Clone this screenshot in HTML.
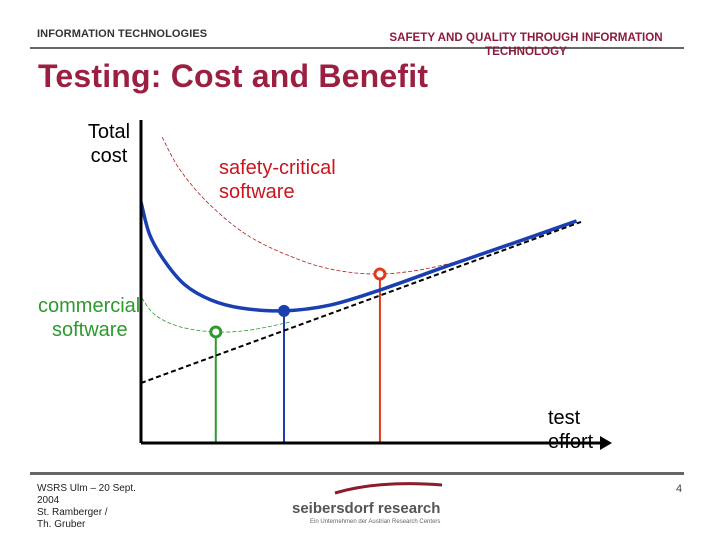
<!DOCTYPE html>
<html><head><meta charset="utf-8"><style>
body{margin:0;width:720px;height:540px;background:#fff;position:relative;overflow:hidden;font-family:"Liberation Sans",sans-serif}
.t{position:absolute;white-space:nowrap}
</style></head><body>
<div class="t" style="left:37px;top:28px;font-size:11px;font-weight:bold;color:#333;letter-spacing:0.1px">INFORMATION TECHNOLOGIES</div>
<div style="position:absolute;left:30px;top:47px;width:654px;height:2px;background:#666"></div>
<div class="t" style="left:370px;top:31px;width:312px;text-align:center;font-size:11.6px;font-weight:bold;color:#8c1c3c;white-space:normal;line-height:14px">SAFETY AND QUALITY THROUGH INFORMATION TECHNOLOGY</div>
<div class="t" style="left:38px;top:58px;font-size:32px;font-weight:bold;color:#9a1f40;letter-spacing:0.2px">Testing: Cost and Benefit</div>
<div class="t" style="left:80px;top:120px;width:58px;text-align:center;font-size:20px;line-height:24px">Total<br>cost</div>
<div class="t" style="left:219px;top:156px;font-size:20px;line-height:24px;color:#c8161e">safety-critical<br>software</div>
<div class="t" style="left:38px;top:294px;width:105px;overflow:hidden;font-size:20px;line-height:24px;color:#2e9a2e">commercial<br><span style="padding-left:14px">software</span></div>
<div class="t" style="left:548px;top:406px;font-size:20px;line-height:24px">test<br>effort</div>
<svg width="720" height="540" style="position:absolute;left:0;top:0">
<g id="g"></g>
</svg>
<div style="position:absolute;left:30px;top:472px;width:654px;height:3px;background:#666"></div>
<div class="t" style="left:37px;top:483px;font-size:10px;line-height:12px;color:#222">WSRS Ulm – 20 Sept.<br>2004<br>St. Ramberger /<br>Th. Gruber</div>
<div class="t" style="left:676px;top:483px;font-size:11px;color:#444">4</div>
<svg width="120" height="20" style="position:absolute;left:330px;top:478px"><path d="M5 15 Q50 2 112 7" stroke="#8c1c2c" stroke-width="3" fill="none"/></svg>
<div class="t" style="left:292px;top:500px;font-size:15px;font-weight:bold;color:#555">seibersdorf research</div>
<div class="t" style="left:310px;top:519px;font-size:6px;color:#666">Ein Unternehmen der Austrian Research Centers</div>
<script>
const totalCost=[[0,75.3],[2,65],[5.5,56.6],[10,49.4],[15.9,44.7],[22.7,42.2],[32.5,41.3],[43,43.1],[54.3,47.8],[70.2,55.6],[86,63.1],[99,69.4]];
const safetyCost=[[4.8,95.6],[8.9,85.3],[15.7,74.4],[24.8,64.4],[36.1,57.2],[45.2,53.8],[54.3,52.8],[63.4,54.1],[72.5,56.9]];
const commercialCost=[[0.2,45.3],[3.2,40],[8.9,36.3],[17,34.7],[24.8,35.3],[33.9,37.8]];
const testCost=[[0,18.75],[100,69.1]];
const optima=[[17,34.7,'#2e9a2e','green-optimum'],[32.5,41.3,'#1a3fb0','blue-optimum'],[54.3,52.8,'#e03a1a','red-optimum']];
const X=v=>141+v*4.4, Y=v=>443-v*3.2;
const NS='http://www.w3.org/2000/svg', g=document.getElementById('g');
function mk(t,a,name){const e=document.createElementNS(NS,t);for(const k in a)e.setAttribute(k,a[k]);


g.appendChild(e);return e;}
function smooth(pts){const p=pts.map(q=>[X(q[0]),Y(q[1])]);let d='M'+p[0];
for(let i=0;i<p.length-1;i++){const a=p[i-1]||p[i],b=p[i],c=p[i+1],e=p[i+2]||c;
d+=' C'+(b[0]+(c[0]-a[0])/6)+','+(b[1]+(c[1]-a[1])/6)+' '+(c[0]-(e[0]-b[0])/6)+','+(c[1]-(e[1]-b[1])/6)+' '+c;}return d;}
optima.forEach(o=>mk('line',{x1:X(o[0]),y1:Y(o[1]),x2:X(o[0]),y2:443,stroke:o[2],'stroke-width':2},o[3]+'-drop'));
mk('path',{d:smooth(safetyCost),fill:'none',stroke:'#b02020','stroke-width':0.8,'stroke-dasharray':'4 2'},'safety-critical-curve');
mk('path',{d:smooth(commercialCost),fill:'none',stroke:'#2e9a2e','stroke-width':0.8,'stroke-dasharray':'4 2'},'commercial-curve');
mk('line',{x1:X(testCost[0][0]),y1:Y(testCost[0][1]),x2:X(testCost[1][0]),y2:Y(testCost[1][1]),stroke:'#000','stroke-width':2,'stroke-dasharray':'5 3'},'test-cost-line');
mk('path',{d:smooth(totalCost),fill:'none',stroke:'#1a3fb0','stroke-width':3.5},'total-cost-curve');
mk('line',{x1:141,y1:120,x2:141,y2:443,stroke:'#000','stroke-width':3},'y-axis');
mk('line',{x1:141,y1:443,x2:603,y2:443,stroke:'#000','stroke-width':3},'x-axis');
mk('path',{d:'M600 436 L612 443 L600 450 Z',fill:'#000'},'x-axis-arrow');
mk('circle',{cx:X(optima[0][0]),cy:Y(optima[0][1]),r:5,fill:'#fff',stroke:optima[0][2],'stroke-width':3},'green-marker');
mk('circle',{cx:X(optima[1][0]),cy:Y(optima[1][1]),r:6,fill:optima[1][2]},'blue-marker');
mk('circle',{cx:X(optima[2][0]),cy:Y(optima[2][1]),r:5,fill:'#fff',stroke:optima[2][2],'stroke-width':3},'red-marker');
</script>
</body></html>
